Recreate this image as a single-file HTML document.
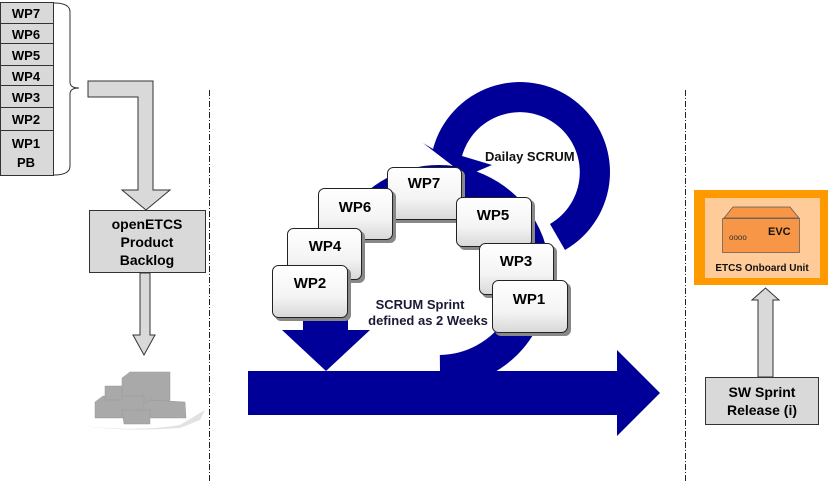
<!DOCTYPE html>
<html><head><meta charset="utf-8"><style>
html,body{margin:0;padding:0;background:#fff;}
svg{display:block;font-family:"Liberation Sans",Arial,sans-serif;}
</style></head><body>
<svg width="828" height="486" viewBox="0 0 828 486" xmlns="http://www.w3.org/2000/svg">
<defs>
<linearGradient id="cg" x1="0" y1="0" x2="0" y2="1">
<stop offset="0" stop-color="#ffffff"/><stop offset="0.6" stop-color="#f4f4f4"/><stop offset="1" stop-color="#d8d8d8"/>
</linearGradient>
</defs>
<!-- left stack -->
<g stroke="#333" stroke-width="1" fill="#d9d9d9">
<rect x="0.5" y="2.5" width="53" height="21"/>
<rect x="0.5" y="23.5" width="53" height="20"/>
<rect x="0.5" y="43.5" width="53" height="22"/>
<rect x="0.5" y="65.5" width="53" height="20"/>
<rect x="0.5" y="85.5" width="53" height="22"/>
<rect x="0.5" y="107.5" width="53" height="23"/>
<rect x="0.5" y="130.5" width="53" height="45"/>
</g>
<g font-size="13" font-weight="bold" text-anchor="middle" fill="#000">
<text x="26" y="18">WP7</text><text x="26" y="39">WP6</text><text x="26" y="60">WP5</text>
<text x="26" y="81">WP4</text><text x="26" y="102">WP3</text><text x="26" y="124">WP2</text>
<text x="26" y="148">WP1</text><text x="26" y="167">PB</text>
</g>
<path d="M54 3 Q70 3 70 12 L70 82 Q70 88 79 88 Q70 88 70 94 L70 166 Q70 175 54 175" fill="none" stroke="#333" stroke-width="1"/>
<!-- L arrow -->
<path d="M88 81 L153 81 L153 190 L170 190 L146 210 L122 190 L138 190 L138 97 L88 97 Z" fill="#d9d9d9" stroke="#333" stroke-width="1"/>
<rect x="89.5" y="210.5" width="116" height="62" fill="#d9d9d9" stroke="#333"/>
<g font-size="14" font-weight="bold" text-anchor="middle">
<text x="147" y="229">openETCS</text><text x="147" y="247">Product</text><text x="147" y="265">Backlog</text>
</g>
<path d="M140 273 L150 273 L150 335 L155 335 L144 355 L133 335 L140 335 Z" fill="#d9d9d9" stroke="#333"/>
<!-- boxes -->
<path d="M82 426 Q140 432 180 425 L205 410 L200 420 L180 428 Q130 432 82 426Z" fill="#e2e2e2"/>
<g fill="#a9a9a9" stroke="#999" stroke-width="0.5">
<path d="M122 378 L130 372 L170 372 L170 412 L122 412Z"/>
<path d="M95 402 L103 396 L144 396 L144 418 L95 418Z"/>
<path d="M105 386 L122 386 L122 400 L105 400Z"/>
<path d="M143 404 L150 400 L185 402 L186 418 L143 418Z"/>
<path d="M122 410 L150 410 L150 424 L124 424Z"/>
</g>
<!-- dashed lines -->
<line x1="209.5" y1="90" x2="209.5" y2="482" stroke="#222" stroke-width="1" stroke-dasharray="6,2,1,2"/>
<line x1="685.5" y1="90" x2="685.5" y2="482" stroke="#222" stroke-width="1" stroke-dasharray="6,2,1,2"/>
<!-- sprint ring -->
<path d="M357 228 A95 95 0 1 1 440 371" fill="none" stroke="#000099" stroke-width="32"/>
<!-- horizontal arrow -->
<path d="M248 371 L617 371 L617 350 L660 393 L617 436 L617 415 L248 415 Z" fill="#000099"/>
<!-- down arrow -->
<path d="M303 318 L348 318 L348 330 L370 330 L326 371 L282 330 L303 330 Z" fill="#000099"/>
<!-- daily scrum ring -->
<path d="M565 250 A90 90 0 1 0 433 149 L423 143 L466 176 L492 165 L462 156 A60 60 0 1 1 550 224 Z" fill="#000099"/>
<text x="485" y="161" font-size="13" font-weight="bold" fill="#111">Dailay SCRUM</text>
<!-- cards -->
<g font-size="15" font-weight="bold" text-anchor="middle" fill="#000">
<g><rect x="390" y="170" width="75" height="53" rx="6" fill="#888"/><rect x="387.5" y="167.5" width="74" height="52" rx="6" fill="url(#cg)" stroke="#222"/><text x="424" y="188">WP7</text></g>
<g><rect x="459" y="200" width="76" height="50" rx="6" fill="#888"/><rect x="456.5" y="197.5" width="75" height="49" rx="6" fill="url(#cg)" stroke="#222"/><text x="493" y="220">WP5</text></g>
<g><rect x="321" y="191" width="75" height="52" rx="6" fill="#888"/><rect x="318.5" y="188.5" width="74" height="51" rx="6" fill="url(#cg)" stroke="#222"/><text x="355" y="212">WP6</text></g>
<g><rect x="290" y="231" width="75" height="52" rx="6" fill="#888"/><rect x="287.5" y="228.5" width="74" height="51" rx="6" fill="url(#cg)" stroke="#222"/><text x="325" y="251">WP4</text></g>
<g><rect x="275" y="268" width="76" height="53" rx="6" fill="#888"/><rect x="272.5" y="265.5" width="75" height="52" rx="6" fill="url(#cg)" stroke="#222"/><text x="310" y="288">WP2</text></g>
<g><rect x="482" y="246" width="75" height="52" rx="6" fill="#888"/><rect x="479.5" y="243.5" width="74" height="51" rx="6" fill="url(#cg)" stroke="#222"/><text x="516" y="266">WP3</text></g>
<g><rect x="495" y="283" width="76" height="53" rx="6" fill="#888"/><rect x="492.5" y="280.5" width="75" height="52" rx="6" fill="url(#cg)" stroke="#222"/><text x="529" y="304">WP1</text></g>
</g>
<g font-size="13" font-weight="bold" fill="#1a1a33" text-anchor="middle">
<text x="420" y="309">SCRUM  Sprint</text><text x="428" y="325">defined as 2 Weeks</text>
</g>
<!-- right: ETCS -->
<rect x="694" y="190" width="134" height="95" fill="#ff9900"/>
<rect x="705" y="198" width="115" height="80" fill="#ffcc99"/>
<path d="M733 207 L790 207 L799 218 L724 218 Z" fill="#f79646" stroke="#555" stroke-width="0.7"/>
<rect x="722.5" y="218.5" width="77" height="34" fill="#f79646" stroke="#555" stroke-width="0.7"/>
<text x="729" y="240" font-size="8" fill="#333">oooo</text>
<text x="768" y="235" font-size="11" font-weight="bold" fill="#111">EVC</text>
<text x="762" y="271" font-size="10" font-weight="bold" fill="#111" text-anchor="middle">ETCS Onboard Unit</text>
<path d="M758 377 L758 300 L752 300 L765.5 288 L779 300 L773 300 L773 377 Z" fill="#d9d9d9" stroke="#333"/>
<rect x="705.5" y="377.5" width="113" height="47" fill="#d9d9d9" stroke="#333"/>
<g font-size="14" font-weight="bold" text-anchor="middle"><text x="762" y="397">SW Sprint</text><text x="762" y="415">Release (i)</text></g>
</svg>
</body></html>
